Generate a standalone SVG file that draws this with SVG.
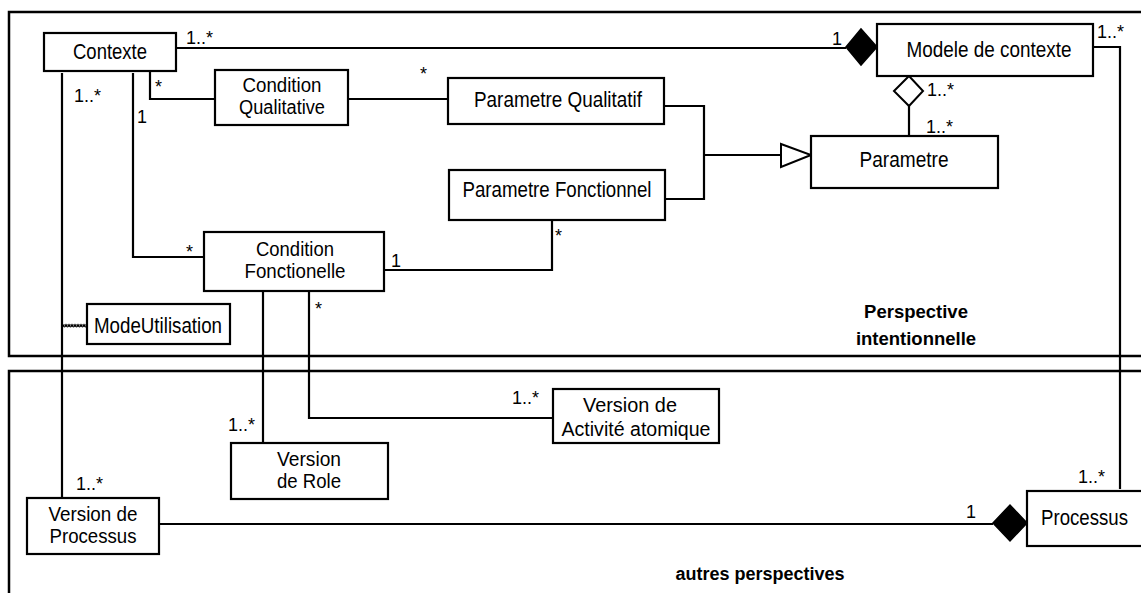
<svg xmlns="http://www.w3.org/2000/svg" width="1141" height="593" viewBox="0 0 1141 593">
  <style>
    .frame { fill: none; stroke: #000; stroke-width: 2.5; }
    .box { fill: #fff; stroke: #000; stroke-width: 2.2; }
    .wire { fill: none; stroke: #000; stroke-width: 2.2; }
    .t { font-family: "Liberation Sans", Arial, sans-serif; font-size: 21.5px; fill: #000; }
    .t2 { font-family: "Liberation Sans", Arial, sans-serif; font-size: 20px; fill: #000; }
    .c { text-anchor: middle; }
    .m { font-family: "Liberation Sans", Arial, sans-serif; font-size: 18px; fill: #000; }
    .b { font-family: "Liberation Sans", Arial, sans-serif; font-size: 18.5px; font-weight: bold; fill: #000; text-anchor: middle; }
  </style>
  <rect width="1141" height="593" fill="#fff"/>

  <!-- perspective frames -->
  <g id="frames">
    <rect class="frame" x="9" y="12" width="1160" height="344"/>
    <rect class="frame" x="9" y="371" width="1160" height="260"/>
    <text class="b" x="916" y="318">Perspective</text>
    <text class="b" x="916" y="345">intentionnelle</text>
    <text class="b" x="760" y="580" style="font-size:18px">autres perspectives</text>
  </g>

  <!-- associations -->
  <g id="connectors">
    <path class="wire" d="M176,48 H846"/>
    <path class="wire" d="M1093,47 H1120 V489"/>
    <path class="wire" d="M909,106 V136"/>
    <path class="wire" d="M664,106 H704 V199 H665"/>
    <path class="wire" d="M704,155 H781"/>
    <path class="wire" d="M150,71 V99 H215"/>
    <path class="wire" d="M348,99 H448"/>
    <path class="wire" d="M133,73 V257 H204"/>
    <path class="wire" d="M62,73 V498"/>
    <path class="wire" d="M384,270 H552 V220"/>
    <path class="wire" d="M263,291 V443"/>
    <path class="wire" d="M309,291 V418 H553"/>
    <path class="wire" d="M159,524 H993"/>
    <path fill="none" stroke="#000" stroke-width="1.2" d="M63,325 h24 M63,325 q1.5,4 3,0 q1.5,4 3,0 q1.5,4 3,0 q1.5,4 3,0 q1.5,4 3,0 q1.5,4 3,0 q1.5,4 3,0 q1.5,4 3,0"/>
    <!-- composition / aggregation / generalization ends -->
    <polygon points="846,47 861,29 877,47 861,65" fill="#000" stroke="#000" stroke-width="1.5"/>
    <polygon points="894,91 909,76 923,91 909,106" fill="#fff" stroke="#000" stroke-width="2"/>
    <polygon points="781,144 811,155 781,167" fill="#fff" stroke="#000" stroke-width="2"/>
    <polygon points="993,523 1010,505 1027,523 1010,541" fill="#000" stroke="#000" stroke-width="1.5"/>
  </g>

  <!-- multiplicities -->
  <g id="multiplicities">
    <text class="m" x="186" y="44">1..*</text>
    <text class="m" x="832" y="45">1</text>
    <text class="m" x="1097" y="38">1..*</text>
    <text class="m" x="927" y="96">1..*</text>
    <text class="m" x="926" y="133">1..*</text>
    <text class="m" x="155" y="93">*</text>
    <text class="m" x="74" y="102">1..*</text>
    <text class="m" x="137" y="123">1</text>
    <text class="m" x="420" y="80">*</text>
    <text class="m" x="186" y="258">*</text>
    <text class="m" x="391" y="267">1</text>
    <text class="m" x="555" y="242">*</text>
    <text class="m" x="315" y="315">*</text>
    <text class="m" x="228" y="431">1..*</text>
    <text class="m" x="76" y="490">1..*</text>
    <text class="m" x="512" y="404">1..*</text>
    <text class="m" x="966" y="518">1</text>
    <text class="m" x="1078" y="483">1..*</text>
  </g>

  <g id="contexte">
    <rect class="box" x="44" y="33" width="132" height="38"/>
    <text class="t c" x="110" y="59" textLength="74" lengthAdjust="spacingAndGlyphs">Contexte</text>
  </g>
  <g id="modele-de-contexte">
    <rect class="box" x="877" y="24" width="216" height="52"/>
    <text class="t c" x="989" y="57" textLength="165" lengthAdjust="spacingAndGlyphs">Modele de contexte</text>
  </g>
  <g id="condition-qualitative">
    <rect class="box" x="215" y="70" width="133" height="55"/>
    <text class="t2 c" x="282" y="92" textLength="79" lengthAdjust="spacingAndGlyphs">Condition</text>
    <text class="t2 c" x="282" y="114" textLength="86" lengthAdjust="spacingAndGlyphs">Qualitative</text>
  </g>
  <g id="parametre-qualitatif">
    <rect class="box" x="448" y="78" width="216" height="46"/>
    <text class="t c" x="558" y="107" textLength="168" lengthAdjust="spacingAndGlyphs">Parametre Qualitatif</text>
  </g>
  <g id="parametre">
    <rect class="box" x="811" y="136" width="187" height="52"/>
    <text class="t c" x="904" y="167" textLength="89" lengthAdjust="spacingAndGlyphs">Parametre</text>
  </g>
  <g id="parametre-fonctionnel">
    <rect class="box" x="449" y="170" width="216" height="50"/>
    <text class="t c" x="557" y="197" textLength="189" lengthAdjust="spacingAndGlyphs">Parametre Fonctionnel</text>
  </g>
  <g id="condition-fonctionelle">
    <rect class="box" x="204" y="232" width="180" height="59"/>
    <text class="t2 c" x="295" y="256" textLength="78" lengthAdjust="spacingAndGlyphs">Condition</text>
    <text class="t2 c" x="295" y="278" textLength="101" lengthAdjust="spacingAndGlyphs">Fonctionelle</text>
  </g>
  <g id="mode-utilisation">
    <rect class="box" x="87" y="304" width="143" height="40"/>
    <text class="t" x="94" y="333" textLength="128" lengthAdjust="spacingAndGlyphs">ModeUtilisation</text>
  </g>
  <g id="version-activite-atomique">
    <rect class="box" x="553" y="389" width="166" height="54"/>
    <text class="t2 c" x="630" y="412" textLength="94" lengthAdjust="spacingAndGlyphs">Version de</text>
    <text class="t2 c" x="636" y="436" textLength="149" lengthAdjust="spacingAndGlyphs">Activité atomique</text>
  </g>
  <g id="version-de-role">
    <rect class="box" x="231" y="443" width="157" height="56"/>
    <text class="t2 c" x="309" y="466" textLength="64" lengthAdjust="spacingAndGlyphs">Version</text>
    <text class="t2 c" x="309" y="488" textLength="64" lengthAdjust="spacingAndGlyphs">de Role</text>
  </g>
  <g id="version-de-processus">
    <rect class="box" x="27" y="498" width="132" height="56"/>
    <text class="t2 c" x="93" y="521" textLength="89" lengthAdjust="spacingAndGlyphs">Version de</text>
    <text class="t2 c" x="93" y="543" textLength="87" lengthAdjust="spacingAndGlyphs">Processus</text>
  </g>
  <g id="processus">
    <rect class="box" x="1027" y="491" width="140" height="55"/>
    <text class="t" x="1041" y="525" textLength="87" lengthAdjust="spacingAndGlyphs">Processus</text>
  </g>
</svg>
